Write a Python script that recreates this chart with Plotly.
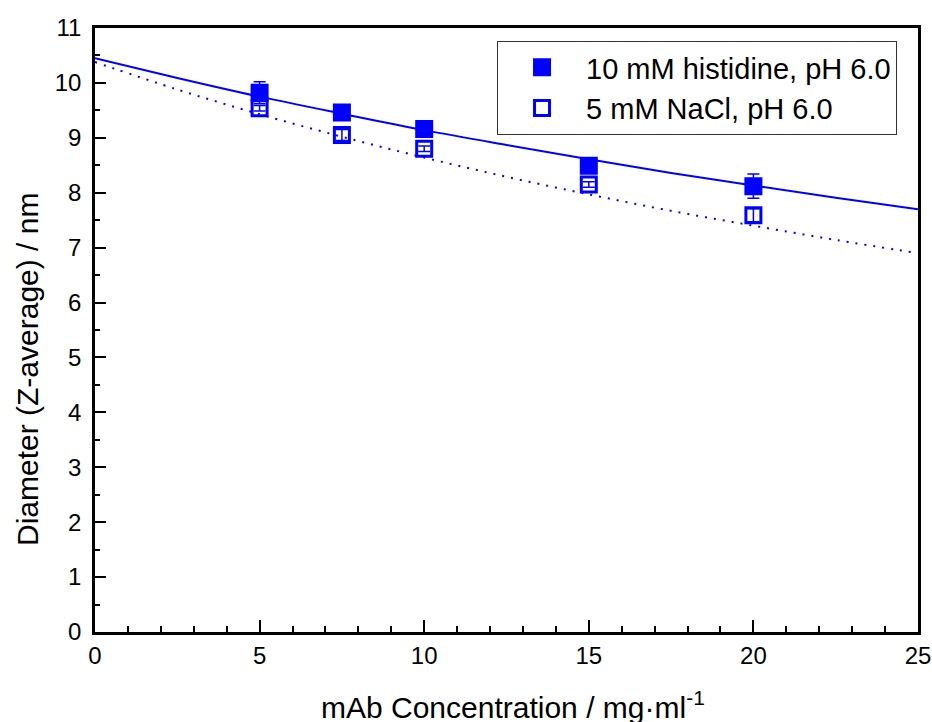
import plotly.graph_objects as go

conc = [5, 7.5, 10, 15, 20]
hist_d = [9.82, 9.46, 9.16, 8.49, 8.12]
hist_err = [0.20, 0.06, 0.06, 0.06, 0.22]
nacl_d = [9.54, 9.05, 8.80, 8.15, 7.59]
nacl_err = [0.05, 0.10, 0.05, 0.05, 0.12]

# Fit curves (at 2.5 mg/ml steps)
fit_x = [0, 2.5, 5, 7.5, 10, 12.5, 15, 17.5, 20, 22.5, 25]
hist_fit = [10.45, 10.09, 9.75, 9.44, 9.14, 8.87, 8.61, 8.36, 8.13, 7.91, 7.70]
nacl_fit = [10.38, 9.88, 9.43, 9.02, 8.64, 8.29, 7.97, 7.67, 7.40, 7.14, 6.90]

names = ["10 mM histidine, pH 6.0", "5 mM NaCl, pH 6.0"]
x_ticks = [0, 5, 10, 15, 20, 25]
y_ticks = list(range(0, 12))

BLUE = "#0000FF"
FONT = "Liberation Sans, Arial, sans-serif"

fig = go.Figure()
fig.add_trace(go.Scatter(x=fit_x, y=hist_fit, mode="lines", line=dict(color=BLUE, width=2, shape="spline"),
                         showlegend=False, hoverinfo="skip"))
fig.add_trace(go.Scatter(x=fit_x, y=nacl_fit, mode="lines",
                         line=dict(color=BLUE, width=2, dash="2px,7px", shape="spline"),
                         showlegend=False, hoverinfo="skip"))
fig.add_trace(go.Scatter(x=conc, y=hist_d, mode="markers", name=names[0],
                         marker=dict(symbol="square", size=15, color=BLUE, line=dict(color=BLUE, width=3)),
                         error_y=dict(type="data", array=hist_err, color=BLUE, thickness=1.5, width=6)))
fig.add_trace(go.Scatter(x=conc, y=nacl_d, mode="markers", name=names[1],
                         marker=dict(symbol="square-open", size=15, color=BLUE, line=dict(color=BLUE, width=3)),
                         error_y=dict(type="data", array=nacl_err, color=BLUE, thickness=1.5, width=6)))

axis_common = dict(showline=True, linecolor="black", linewidth=2.5, mirror=True, ticks="inside",
                   tickcolor="black", tickwidth=2, showgrid=False, zeroline=False, automargin=False,
                   tickfont=dict(family=FONT, size=24, color="black"))

fig.update_xaxes(range=[0, 25], tickvals=x_ticks, ticklen=12, ticklabelstandoff=0,
                 minor=dict(dtick=1, ticks="inside", ticklen=6, tickwidth=2, tickcolor="black", showgrid=False),
                 **axis_common)
fig.update_yaxes(range=[0, 11], tickvals=y_ticks, ticklen=11, ticklabelstandoff=6,
                 minor=dict(dtick=0.5, ticks="inside", ticklen=5, tickwidth=2, tickcolor="black", showgrid=False),
                 **axis_common)

fig.update_layout(
    width=932, height=722,
    margin=dict(l=95, r=14, t=28, b=90),
    plot_bgcolor="white", paper_bgcolor="white",
    font=dict(family=FONT, color="black"),
    legend=dict(x=0.4885, y=0.9785, xanchor="left", yanchor="top",
                bordercolor="#333333", borderwidth=1, bgcolor="white",
                font=dict(family=FONT, size=29, color="black"), itemwidth=78),
    annotations=[
        dict(text="mAb Concentration / mg·ml<sup>-1</sup>", xref="paper", yref="paper",
             x=0.508, y=-0.121, xanchor="center", yanchor="middle", showarrow=False,
             font=dict(family=FONT, size=30, color="black")),
        dict(text="Diameter (Z-average) / nm", xref="paper", yref="paper",
             x=-0.0814, y=0.4338, xanchor="center", yanchor="middle", showarrow=False, textangle=-90,
             font=dict(family=FONT, size=30, color="black")),
    ],
)

fig.write_html("out.html", config={"displayModeBar": False},
               post_script="document.body.style.margin='0';")
